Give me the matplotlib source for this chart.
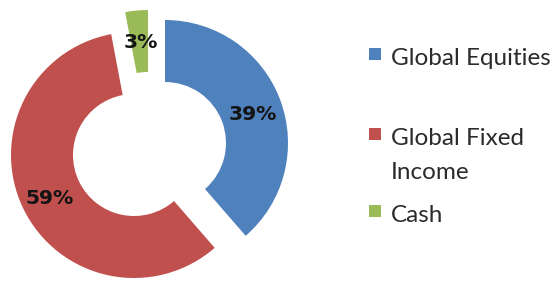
import matplotlib
matplotlib.use("Agg")
import matplotlib.pyplot as plt
from matplotlib.patches import Rectangle

# data
categories = ["Global Equities", "Global Fixed\nIncome", "Cash"]
values = [39, 59, 3]
colors = ["#4F81BD", "#C0504D", "#9BBB59"]

W, H = 553, 281
fig = plt.figure(figsize=(W / 100, H / 100), dpi=100)
ax = fig.add_axes([0, 0, 1, 1])

R = 123
ring = 62
wedges, _ = ax.pie(
    values,
    colors=colors,
    startangle=90,
    counterclock=False,
    radius=R,
    center=(150, H - 145),
    wedgeprops=dict(width=ring, linewidth=0),
    frame=True,
)

# each slice is pulled out on its own (pixel coords, from top-left)
slice_centers = [(165, 143), (134, 155), (148, 133)]
for w, (cx, cy) in zip(wedges, slice_centers):
    w.set_center((cx, H - cy))

ax.set_xlim(0, W)
ax.set_ylim(0, H)
ax.set_aspect("auto")
ax.axis("off")

# percentage labels
label_pos = [(253, 115), (50, 199), (141, 43)]
for (lx, ly), v in zip(label_pos, values):
    ax.text(lx, H - ly, f"{v}%", ha="center", va="center",
            fontsize=14.6, fontweight="bold", color="#141414",
            family="DejaVu Sans")

# legend
legend_base = [65, 145, 222]
for y, lab, c in zip(legend_base, categories, colors):
    ax.add_patch(Rectangle((369, H - y + 5), 12, 12, color=c, lw=0))
    for i, line in enumerate(lab.split("\n")):
        ax.text(391, H - y - i * 34, line, ha="left", va="baseline",
                fontsize=17.5, color="#2b2b2b", family="Lato")

plt.savefig("out.png", dpi=100)
plt.close()
